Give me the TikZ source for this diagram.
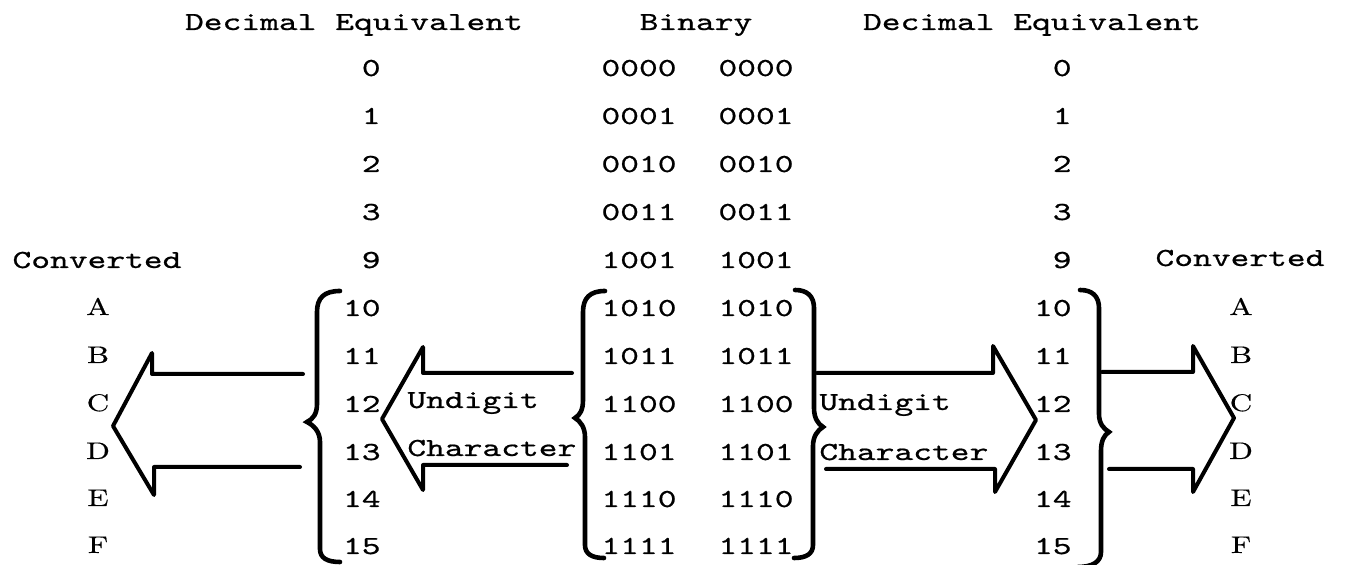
\documentclass[tikz,border=0pt]{standalone}
\usepackage{fontspec}
\newfontfamily\twfont{lmmono10-regular.otf}[FakeStretch=1.375, FakeBold=0.7]
\newfontfamily\ltfont{lmroman10-regular.otf}[FakeStretch=1.3, FakeBold=0.5]
\newcommand{\twt}[1]{{\fontsize{13}{15}\twfont #1}}
\newcommand{\rml}[1]{{\fontsize{12}{14}\ltfont #1}}
\begin{document}
\begin{tikzpicture}[x=0.5pt,y=-0.5pt,
  txt/.style={inner sep=0pt, anchor=base},
  rtxt/.style={inner sep=0pt, anchor=base east},
  ltxt/.style={inner sep=0pt, anchor=base west},
  blk/.style={line width=2pt, line join=round, line cap=round},
  brc/.style={line width=2.3pt, line cap=round}]
\useasboundingbox (0,0) rectangle (1345,565);

% headers
\node[txt] (hl) at (354,30) {\twt{Decimal Equivalent}};
\node[txt] (hb) at (696,30) {\twt{Binary}};
\node[txt] (hr) at (1032,30) {\twt{Decimal Equivalent}};
\node[txt] (cl) at (97,268) {\twt{Converted}};
\node[txt] (cr) at (1240,266) {\twt{Converted}};

% table rows
\foreach \d/\b/\y [count=\i] in {0/0000/76, 1/0001/124, 2/0010/172, 3/0011/220, 9/1001/268,
   10/1010/316, 11/1011/364, 12/1100/412, 13/1101/460, 14/1110/507, 15/1111/554}{
  \node[rtxt] (ld\i) at (381,\y) {\twt{\d}};
  \node[txt]  (ba\i) at (639,\y) {\twt{\b}};
  \node[txt]  (bb\i) at (756,\y) {\twt{\b}};
  \node[rtxt] (rd\i) at (1072,\y) {\twt{\d}};
}

% converted letters
\foreach \l/\y [count=\i] in {A/315, B/363, C/411, D/459, E/506, F/553}{
  \node[txt] (la\i) at (98,\y) {\rml{\l}};
  \node[txt] (ra\i) at (1241,\y) {\rml{\l}};
}

% labels
\node[ltxt] (ul) at (407,408) {\twt{Undigit}};
\node[ltxt] (chl) at (407,456) {\twt{Character}};
\node[ltxt] (ur) at (819,410) {\twt{Undigit}};
\node[ltxt] (chr) at (819,460) {\twt{Character}};

% block arrows
\draw[blk] (303,374) -- (152,374) -- (152,353) -- (113,426) -- (154,495) -- (154,467) -- (300,467);
\draw[blk] (572,373) -- (423,373) -- (423,347) -- (382,419) -- (423,490) -- (423,465) -- (567,465);
\draw[blk] (817,373) -- (993,373) -- (993,346) -- (1036,420) -- (995,492) -- (995,469) -- (826,469);
\draw[blk] (1102,372) -- (1193,372) -- (1193,346) -- (1234,418) -- (1193,492) -- (1193,469) -- (1109,469);

% braces
\draw[brc] (340,291) .. controls (324,291) and (317,298) .. (317,312) -- (317,404)
  .. controls (317,414) and (313,419) .. (307,422)
  .. controls (313,425) and (320,431) .. (320,442) -- (320,549)
  .. controls (320,558) and (327,562) .. (340,562);
\draw[brc] (605,291) .. controls (590,291) and (583,298) .. (583,312) -- (583,400)
  .. controls (583,410) and (580,415) .. (575,418)
  .. controls (580,421) and (585,427) .. (585,437) -- (585,545)
  .. controls (585,554) and (592,558) .. (604,558);
\draw[brc] (795,290) .. controls (807,290) and (814,296) .. (814,308) -- (814,408)
  .. controls (814,418) and (818,424) .. (823,427)
  .. controls (818,430) and (813,436) .. (813,446) -- (813,545)
  .. controls (813,554) and (806,558) .. (794,558);
\draw[brc] (1080,290) .. controls (1092,290) and (1099,296) .. (1099,308) -- (1099,414)
  .. controls (1099,424) and (1104,429) .. (1109,432)
  .. controls (1104,435) and (1101,441) .. (1101,451) -- (1101,552)
  .. controls (1101,562) and (1092,567) .. (1078,567);
\end{tikzpicture}
\end{document}
